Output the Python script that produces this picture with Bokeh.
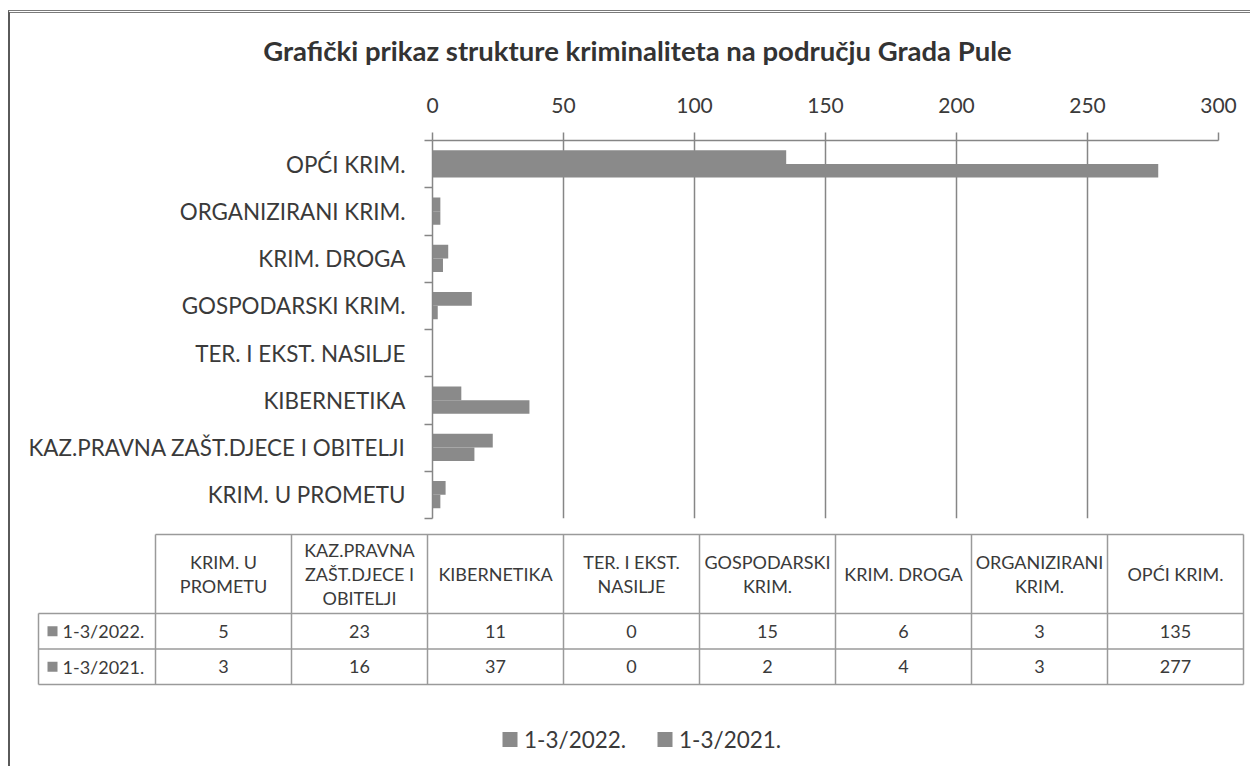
from bokeh.plotting import figure
from bokeh.models import (Range1d, LinearAxis, FixedTicker, ColumnDataSource, Grid, Column)
from bokeh.transform import dodge
from bokeh.embed import file_html
from bokeh.resources import INLINE
from bokeh.core.properties import value

# ---------------- data ----------------
title_text = "Grafički prikaz strukture kriminaliteta na području Grada Pule"
categories = ["KRIM. U PROMETU", "KAZ.PRAVNA ZAŠT.DJECE I OBITELJI", "KIBERNETIKA",
              "TER. I EKST. NASILJE", "GOSPODARSKI KRIM.", "KRIM. DROGA",
              "ORGANIZIRANI KRIM.", "OPĆI KRIM."]
table_headers = ["KRIM. U\nPROMETU", "KAZ.PRAVNA\nZAŠT.DJECE I\nOBITELJI", "KIBERNETIKA",
                 "TER. I EKST.\nNASILJE", "GOSPODARSKI\nKRIM.", "KRIM. DROGA",
                 "ORGANIZIRANI\nKRIM.", "OPĆI KRIM."]
series_names = ["1-3/2022.", "1-3/2021."]
values_2022 = [5, 23, 11, 0, 15, 6, 3, 135]
values_2021 = [3, 16, 37, 0, 2, 4, 3, 277]
x_ticks = [0, 50, 100, 150, 200, 250, 300]

# ---------------- style ----------------
W = 1240
OX, OY = 10, 13            # page position of the content origin (after margin + border)
H0 = 74                    # title strip
H1 = 443                   # chart
H2 = 236                   # data table + legend
FONT = "Lato"
TXT = "#3a3a3a"
BAR = "#8a8a8a"
GRID = "#868686"
TBL = "#9a9a9a"

n = len(categories)
pos = [i + 0.5 for i in range(n)]          # category centres on the numeric band scale

# ---------------- title strip ----------------
ptitle = figure(width=W, height=H0, x_range=Range1d(OX, OX + W), y_range=Range1d(OY + H0, OY),
                toolbar_location=None, output_backend="svg", min_border=0,
                x_axis_location=None, y_axis_location=None, outline_line_color=None,
                background_fill_color="white", border_fill_color="white")
for g in ptitle.grid:
    g.visible = False
ptitle.text(x=[637], y=[50], text=[title_text], text_align="center", text_baseline="middle",
            text_font=value(FONT), text_font_style="bold", text_font_size="27.5px",
            text_color="#333333")

# ---------------- chart ----------------
p = figure(width=W, height=H1, x_range=Range1d(0, 300), y_range=Range1d(0, n),
           x_axis_location="above", y_axis_location=None,
           toolbar_location=None, output_backend="svg",
           min_border_left=422, min_border_right=32, min_border_top=53, min_border_bottom=12,
           outline_line_color=None, background_fill_color="white", border_fill_color="white")

for g in p.grid:
    g.visible = False
p.add_layout(Grid(dimension=0, ticker=FixedTicker(ticks=x_ticks),
                  grid_line_color=GRID, grid_line_width=1.5))

xa = p.xaxis[0]
xa.ticker = FixedTicker(ticks=x_ticks)
xa.major_tick_out = 8
xa.major_tick_in = 0
xa.minor_tick_line_color = None
xa.axis_line_color = GRID
xa.axis_line_width = 1.5
xa.major_tick_line_color = GRID
xa.major_tick_line_width = 1.5
xa.major_label_text_font = FONT
xa.major_label_text_font_size = "21px"
xa.major_label_text_color = TXT
xa.major_label_standoff = 20

tick_axis = LinearAxis(ticker=FixedTicker(ticks=list(range(n + 1))),
                       major_label_overrides={i: "" for i in range(n + 1)},
                       major_tick_out=8, major_tick_in=0, major_label_standoff=0,
                       minor_tick_line_color=None, axis_line_color=GRID, axis_line_width=1.5,
                       major_tick_line_color=GRID, major_tick_line_width=1.5)
cat_axis = LinearAxis(ticker=FixedTicker(ticks=pos),
                      major_label_overrides={pv: c for pv, c in zip(pos, categories)},
                      major_tick_line_color=None, axis_line_color=None, minor_tick_line_color=None,
                      major_tick_out=0, major_tick_in=0,
                      major_label_text_font=FONT, major_label_text_font_size="22.4px",
                      major_label_text_color=TXT, major_label_standoff=19)
p.add_layout(tick_axis, "left")
p.add_layout(cat_axis, "left")

src = ColumnDataSource(dict(pos=pos, v22=values_2022, v21=values_2021))
p.hbar(y=dodge("pos", 0.15), left=0, right="v22", height=0.29,
       source=src, fill_color=BAR, line_color=None)
p.hbar(y=dodge("pos", -0.14), left=0, right="v21", height=0.29,
       source=src, fill_color=BAR, line_color=None)

# ---------------- data table + legend ----------------
TY = OY + H0 + H1
pt = figure(width=W, height=H2, x_range=Range1d(OX, OX + W),
            y_range=Range1d(TY + H2, TY),
            toolbar_location=None, output_backend="svg", min_border=0,
            x_axis_location=None, y_axis_location=None, outline_line_color=None,
            background_fill_color="white", border_fill_color="white")
for g in pt.grid:
    g.visible = False

X0, CW, LX = 155, 136, 38
YT, YH, RH = 534, 613, 35.5
x_end = X0 + n * CW
row_bottoms = [YH + RH * (k + 1) for k in range(len(series_names))]

# horizontal lines
pt.segment(x0=[X0] + [LX] * (1 + len(series_names)), x1=[x_end] * (2 + len(series_names)),
           y0=[YT, YH] + row_bottoms, y1=[YT, YH] + row_bottoms, line_color=TBL, line_width=1.5)
# vertical lines
vx = [X0 + i * CW for i in range(n + 1)]
pt.segment(x0=vx + [LX], x1=vx + [LX], y0=[YT] * (n + 1) + [YH],
           y1=[row_bottoms[-1]] * (n + 2), line_color=TBL, line_width=1.5)

centers = [X0 + CW * (i + 0.5) for i in range(n)]
pt.text(x=centers, y=[(YT + YH) / 2] * n, text=table_headers, text_align="center",
        text_baseline="middle", text_font=value(FONT), text_font_size="18px",
        text_color=TXT, text_line_height=1.1)

for k, vals in enumerate([values_2022, values_2021]):
    yc = YH + RH * (k + 0.5)
    pt.text(x=centers, y=[yc] * n, text=[str(v) for v in vals], text_align="center",
            text_baseline="middle", text_font=value(FONT), text_font_size="18px", text_color=TXT)
    pt.scatter(x=[52], y=[yc], marker="square", size=10, fill_color=BAR, line_color=None)
    pt.text(x=[62], y=[yc], text=[series_names[k]], text_align="left", text_baseline="middle",
            text_font=value(FONT), text_font_size="18px", text_color=TXT)

# legend
LEG_Y = 739
leg_sq = [509.5, 664.5]
for k, name in enumerate(series_names):
    pt.scatter(x=[leg_sq[k]], y=[LEG_Y], marker="square", size=15, fill_color=BAR, line_color=None)
    pt.text(x=[leg_sq[k] + 14], y=[LEG_Y], text=[name], text_align="left", text_baseline="middle",
            text_font=value(FONT), text_font_size="22.5px", text_color=TXT)

layout = Column(children=[Column(children=[ptitle]), Column(children=[p]), Column(children=[pt])],
                styles={"margin-left": "8px", "margin-top": "10px",
                        "border-left": "2px solid #5a5a5a", "border-top": "3px double #7a7a7a"})

open("out.html", "w").write(file_html(layout, INLINE))
